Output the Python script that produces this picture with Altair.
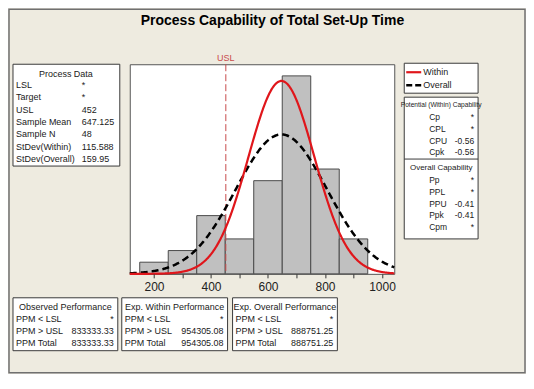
import altair as alt
import pandas as pd

# ---------------- data ----------------
bin_lower = [150, 250, 350, 450, 550, 650, 750, 850]
bin_upper = [250, 350, 450, 550, 650, 750, 850, 950]
bin_count = [1, 2, 5, 3, 8, 17, 9, 3]
usl_value = 452
sample_mean = 647.125
sample_n = 48
stdev_within = 115.588
stdev_overall = 159.95
x_tick_values = [200, 300, 400, 500, 600, 700, 800, 900, 1000]
x_domain = [115, 1043]
y_domain = [0, 18]

chart_title = "Process Capability of Total Set-Up Time"
process_title = "Process Data"
process_labels = ["LSL", "Target", "USL", "Sample Mean", "Sample N", "StDev(Within)", "StDev(Overall)"]
process_values = ["*", "*", "452", "647.125", "48", "115.588", "159.95"]
legend_labels = ["Within", "Overall"]
within_title = "Potential (Within) Capability"
within_labels = ["Cp", "CPL", "CPU", "Cpk"]
within_values = ["*", "*", "-0.56", "-0.56"]
overall_title = "Overall Capability"
overall_labels = ["Pp", "PPL", "PPU", "Ppk", "Cpm"]
overall_values = ["*", "*", "-0.41", "-0.41", "*"]
perf_titles = ["Observed Performance", "Exp. Within Performance", "Exp. Overall Performance"]
perf_labels = ["PPM < LSL", "PPM > USL", "PPM Total"]
perf_values = [
    ["*", "833333.33", "833333.33"],
    ["*", "954305.08", "954305.08"],
    ["*", "888751.25", "888751.25"],
]

# ---------------- layout (reference-picture pixels) ----------------
FONT = "Liberation Sans"
BEIGE = "#EEEBE0"
TXT = "#1a1a1a"
OX, OY = 129, 63          # top-left of the plot area
PW, PH = 265, 210         # plot area size


def P(x):
    return x - OX


def Q(y):
    return y - OY


def pix(field):
    return alt.X(f"{field}:Q", scale=None, axis=None)


def piy(field):
    return alt.Y(f"{field}:Q", scale=None, axis=None)


def text_layer(rows, align="left", size=9, color=TXT, weight="normal", font=FONT):
    df = pd.DataFrame(rows, columns=["px", "py", "t"])
    return alt.Chart(df).mark_text(
        align=align, baseline="middle", fontSize=size, font=font,
        color=color, fontWeight=weight
    ).encode(x=pix("px"), y=piy("py"), text="t:N")


def rect_layer(rows, **kw):
    df = pd.DataFrame(rows, columns=["x1", "y1", "x2", "y2"])
    return alt.Chart(df).mark_rect(**kw).encode(
        x=pix("x1"), x2="x2:Q", y=piy("y1"), y2="y2:Q")


def hrule_layer(rows, **kw):
    df = pd.DataFrame(rows, columns=["x1", "x2", "y"])
    return alt.Chart(df).mark_rule(**kw).encode(
        x=pix("x1"), x2="x2:Q", y=piy("y"))


layers = []

# outer frame of the whole graph window
layers.append(rect_layer([(P(8), Q(8), P(525), Q(372))],
                         fill="white", fillOpacity=0, stroke="#707070", strokeWidth=1.5))

# white text boxes
boxes = [
    (P(12), Q(63), P(119), Q(165)),       # process data
    (P(404), Q(62), P(478), Q(92)),       # legend
    (P(404), Q(96), P(478), Q(238)),      # capability
    (P(12), Q(297), P(117), Q(350)),
    (P(121), Q(297), P(227), Q(350)),
    (P(232), Q(297), P(337), Q(350)),
]
layers.append(rect_layer(boxes, fill="white", stroke="#3a3a3a", strokeWidth=1))
layers.append(hrule_layer([(P(404), P(478), Q(158))], color="#3a3a3a", strokeWidth=1))

# title
layers.append(text_layer([(P(272), Q(20), chart_title)], align="center", size=14,
                         color="#000000", weight="bold"))

# process data box
rows = [(P(65), Q(72.5), process_title)]
layers.append(text_layer(rows, align="center"))
rows_l, rows_v = [], []
for i, (lab, val) in enumerate(zip(process_labels, process_values)):
    y = 84 + 12.3 * i
    rows_l.append((P(15), Q(y), lab))
    rows_v.append((P(81), Q(y), val))
layers.append(text_layer(rows_l))
layers.append(text_layer(rows_v))

# legend box
layers.append(hrule_layer([(P(406), P(421), Q(71))], color="#E0161B", strokeWidth=2.2))
layers.append(hrule_layer([(P(406), P(421), Q(84))], color="#000000", strokeWidth=2.5,
                          strokeDash=[6, 3]))
layers.append(text_layer([(P(423), Q(71), legend_labels[0]), (P(423), Q(84), legend_labels[1])]))

# capability box
layers.append(text_layer([(P(441), Q(104), within_title)], align="center", size=6.6))
layers.append(text_layer([(P(441), Q(167), overall_title)], align="center", size=8))
cap_l, cap_v = [], []
for i, (lab, val) in enumerate(zip(within_labels, within_values)):
    y = 116 + 11.8 * i
    cap_l.append((P(429), Q(y), lab))
    cap_v.append((P(474), Q(y), val))
for i, (lab, val) in enumerate(zip(overall_labels, overall_values)):
    y = 179 + 11.8 * i
    cap_l.append((P(429), Q(y), lab))
    cap_v.append((P(474), Q(y), val))
layers.append(text_layer(cap_l, size=8.5))
layers.append(text_layer(cap_v, align="right", size=8.5))

# performance boxes
perf_boxes = [(12, 117), (121, 227), (232, 337)]
pt, pl, pv = [], [], []
for (bx1, bx2), ttl, vals in zip(perf_boxes, perf_titles, perf_values):
    pt.append((P((bx1 + bx2) / 2), Q(306), ttl))
    for i, (lab, val) in enumerate(zip(perf_labels, vals)):
        y = 318 + 12 * i
        pl.append((P(bx1 + 3), Q(y), lab))
        pv.append((P(bx2 - 4), Q(y), val))
layers.append(text_layer(pt, align="center"))
layers.append(text_layer(pl))
layers.append(text_layer(pv, align="right"))

# ---------------- the histogram itself ----------------
xs = alt.Scale(domain=x_domain, nice=False, zero=False)
ys = alt.Scale(domain=y_domain, nice=False, zero=False)
x_axis = alt.Axis(values=x_tick_values, title=None, grid=False, domain=False,
                  tickSize=4, tickColor="#333333", labelColor="#222222",
                  labelFontSize=12, labelFont=FONT, labelPadding=4, zindex=1,
                  labelExpr="datum.value % 200 == 0 ? '' + datum.value : ''")

hist_df = pd.DataFrame({"lo": bin_lower, "hi": bin_upper, "n": bin_count})
bars = alt.Chart(hist_df).mark_rect(fill="#C0C0C0", stroke="#4a4a4a", strokeWidth=1).transform_calculate(
    zero="0"
).encode(
    x=alt.X("lo:Q", scale=xs, axis=x_axis),
    x2="hi:Q",
    y=alt.Y("zero:Q", scale=ys, axis=None),
    y2="n:Q",
)
layers.append(bars)

usl_df = pd.DataFrame({"usl": [usl_value], "lab": ["USL"]})
layers.append(alt.Chart(usl_df).mark_rule(color="#C84B4B", strokeWidth=1, strokeDash=[7, 3]).encode(
    x=alt.X("usl:Q", scale=xs, axis=x_axis)))
layers.append(alt.Chart(usl_df).mark_text(color="#C84B4B", fontSize=9, font=FONT, baseline="middle",
                                           dy=-(OY - 57)).encode(
    x=alt.X("usl:Q", scale=xs, axis=x_axis), y=alt.value(0), text="lab:N"))


def fit_curve(sd, **kw):
    return alt.Chart(alt.sequence(x_domain[0], x_domain[1] + 1, 2, as_="x")).transform_calculate(
        dens=f"{sample_n} * 100 / ({sd} * sqrt(2 * PI)) * exp(-0.5 * pow((datum.x - {sample_mean}) / {sd}, 2))"
    ).mark_line(**kw).encode(
        x=alt.X("x:Q", scale=xs, axis=x_axis),
        y=alt.Y("dens:Q", scale=ys, axis=None),
    )


layers.append(fit_curve(stdev_overall, color="#000000", strokeWidth=2.5, strokeDash=[7, 4]))
layers.append(fit_curve(stdev_within, color="#E0161B", strokeWidth=2.2))

chart = alt.layer(*layers).properties(
    width=PW, height=PH, background=BEIGE, padding=0
).configure_view(
    fill="white", stroke="#555555", strokeWidth=1
)

chart.save("out.html", embed_options={"renderer": "svg", "actions": False})
